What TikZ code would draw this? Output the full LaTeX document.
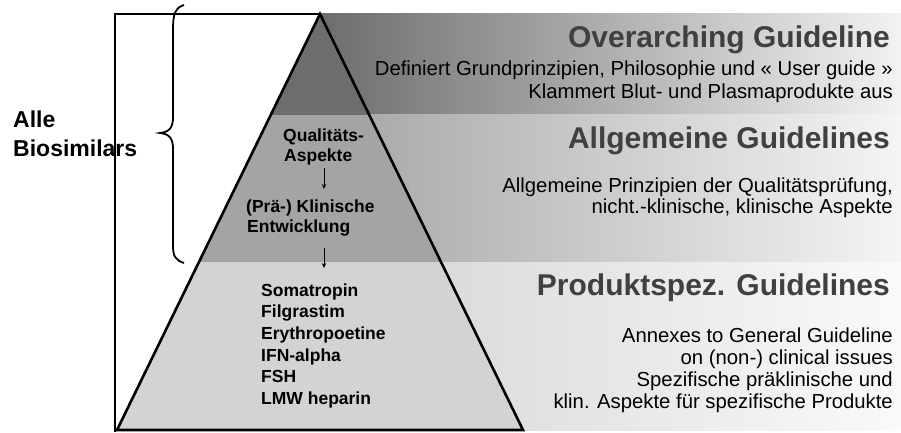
\documentclass[tikz,border=0pt]{standalone}
\usepackage{fontspec}
\setmainfont{Liberation Sans}
\usetikzlibrary{arrows.meta,calc}
\definecolor{topin}{HTML}{6D6D6D}
\definecolor{midin}{HTML}{A4A4A4}
\definecolor{lowin}{HTML}{D3D3D3}
\definecolor{headgray}{HTML}{404040}
\tikzset{
  heading/.style={anchor=base east, inner sep=0pt, text=headgray, font=\bfseries\fontsize{30}{32}\selectfont},
  bodytext/.style={anchor=base east, inner sep=0pt, text=black, font=\fontsize{20.3}{22}\selectfont},
  pyrtext/.style={anchor=base west, inner sep=0pt, text=black, font=\bfseries\fontsize{17.5}{20}\selectfont},
  lefttext/.style={anchor=base west, inner sep=0pt, text=black, font=\bfseries\fontsize{23}{26}\selectfont},
  flowarrow/.style={-{Stealth[length=5pt,width=4.5pt]}, line width=0.8pt},
}
\begin{document}
\begin{tikzpicture}[x=1pt,y=-1pt]
\useasboundingbox (0,0) rectangle (901,433);
% bands
\shade[left color=topin, middle color=black!26, right color=black!5] (320,14) rectangle (901,115);
\shade[left color=midin, middle color=black!18, right color=black!4] (320,115) rectangle (901,262);
\shade[left color=lowin, middle color=black!8, right color=black!2] (320,262) rectangle (901,430);
% pyramid
\coordinate (A) at (320,14);
\coordinate (BL) at (117,430);
\coordinate (BR) at (523,430);
\fill[topin] (A) -- ($(A)!0.2428!(BL)$) -- ($(A)!0.2428!(BR)$) -- cycle;
\fill[midin] ($(A)!0.2428!(BL)$) -- ($(A)!0.5962!(BL)$) -- ($(A)!0.5962!(BR)$) -- ($(A)!0.2428!(BR)$) -- cycle;
\fill[lowin] ($(A)!0.5962!(BL)$) -- (BL) -- (BR) -- ($(A)!0.5962!(BR)$) -- cycle;
\draw[line width=2.6pt, line join=miter] (A) -- (BL) -- (BR) -- cycle;
% frame
\draw[line width=1.1pt] (A) -- (115,14) -- (115,432);
% brace
\draw[line width=1.8pt] (184,5) .. controls (175,8) and (173,14) .. (173,30) -- (173,117)
  .. controls (173,127) and (170,132) .. (160,133)
  .. controls (170,134) and (173,139) .. (173,149) -- (173,245)
  .. controls (173,256) and (175,260) .. (184,263);
% left label
\node[lefttext] (alle) at (13,128) {Alle};
\node[lefttext] (bios) at (13,156) {Biosimilars};
% pyramid texts
\node[pyrtext] (qual) at (283,141) {Qualitäts-};
\node[pyrtext] (asp) at (284,161) {Aspekte};
\node[pyrtext] (pre) at (246,212) {(Prä-) Klinische};
\node[pyrtext] (entw) at (247,232) {Entwicklung};
\coordinate (a1s) at (324,168);
\coordinate (a1e) at (324,189);
\coordinate (a2s) at (324,248);
\coordinate (a2e) at (324,268);
\draw[flowarrow] (a1s) -- (a1e);
\draw[flowarrow] (a2s) -- (a2e);
\node[pyrtext] (p1) at (261,296) {Somatropin};
\node[pyrtext] (p2) at (261,317.7) {Filgrastim};
\node[pyrtext] (p3) at (261,339.3) {Erythropoetine};
\node[pyrtext] (p4) at (261,361) {IFN-alpha};
\node[pyrtext] (p5) at (261,382.7) {FSH};
\node[pyrtext] (p6) at (261,404.3) {LMW heparin};
% right texts
\node[heading] (h1) at (890,48) {Overarching Guideline};
\node[bodytext] (t11) at (893,76) {Definiert Grundprinzipien, Philosophie und « User guide »};
\node[bodytext] (t12) at (893,99) {Klammert Blut- und Plasmaprodukte aus};
\node[heading] (h2) at (890,148) {Allgemeine Guidelines};
\node[bodytext] (t21) at (893,192) {Allgemeine Prinzipien der Qualitätsprüfung,};
\node[bodytext] (t22) at (893,213) {nicht.-klinische, klinische Aspekte};
\node[heading] (h3) at (890,295) {Produktspez. Guidelines};
\node[bodytext] (t31) at (893,342) {Annexes to General Guideline};
\node[bodytext] (t32) at (893,364) {on (non-) clinical issues};
\node[bodytext] (t33) at (893,386) {Spezifische präklinische und};
\node[bodytext] (t34) at (893,408) {klin. Aspekte für spezifische Produkte};
\end{tikzpicture}
\end{document}
